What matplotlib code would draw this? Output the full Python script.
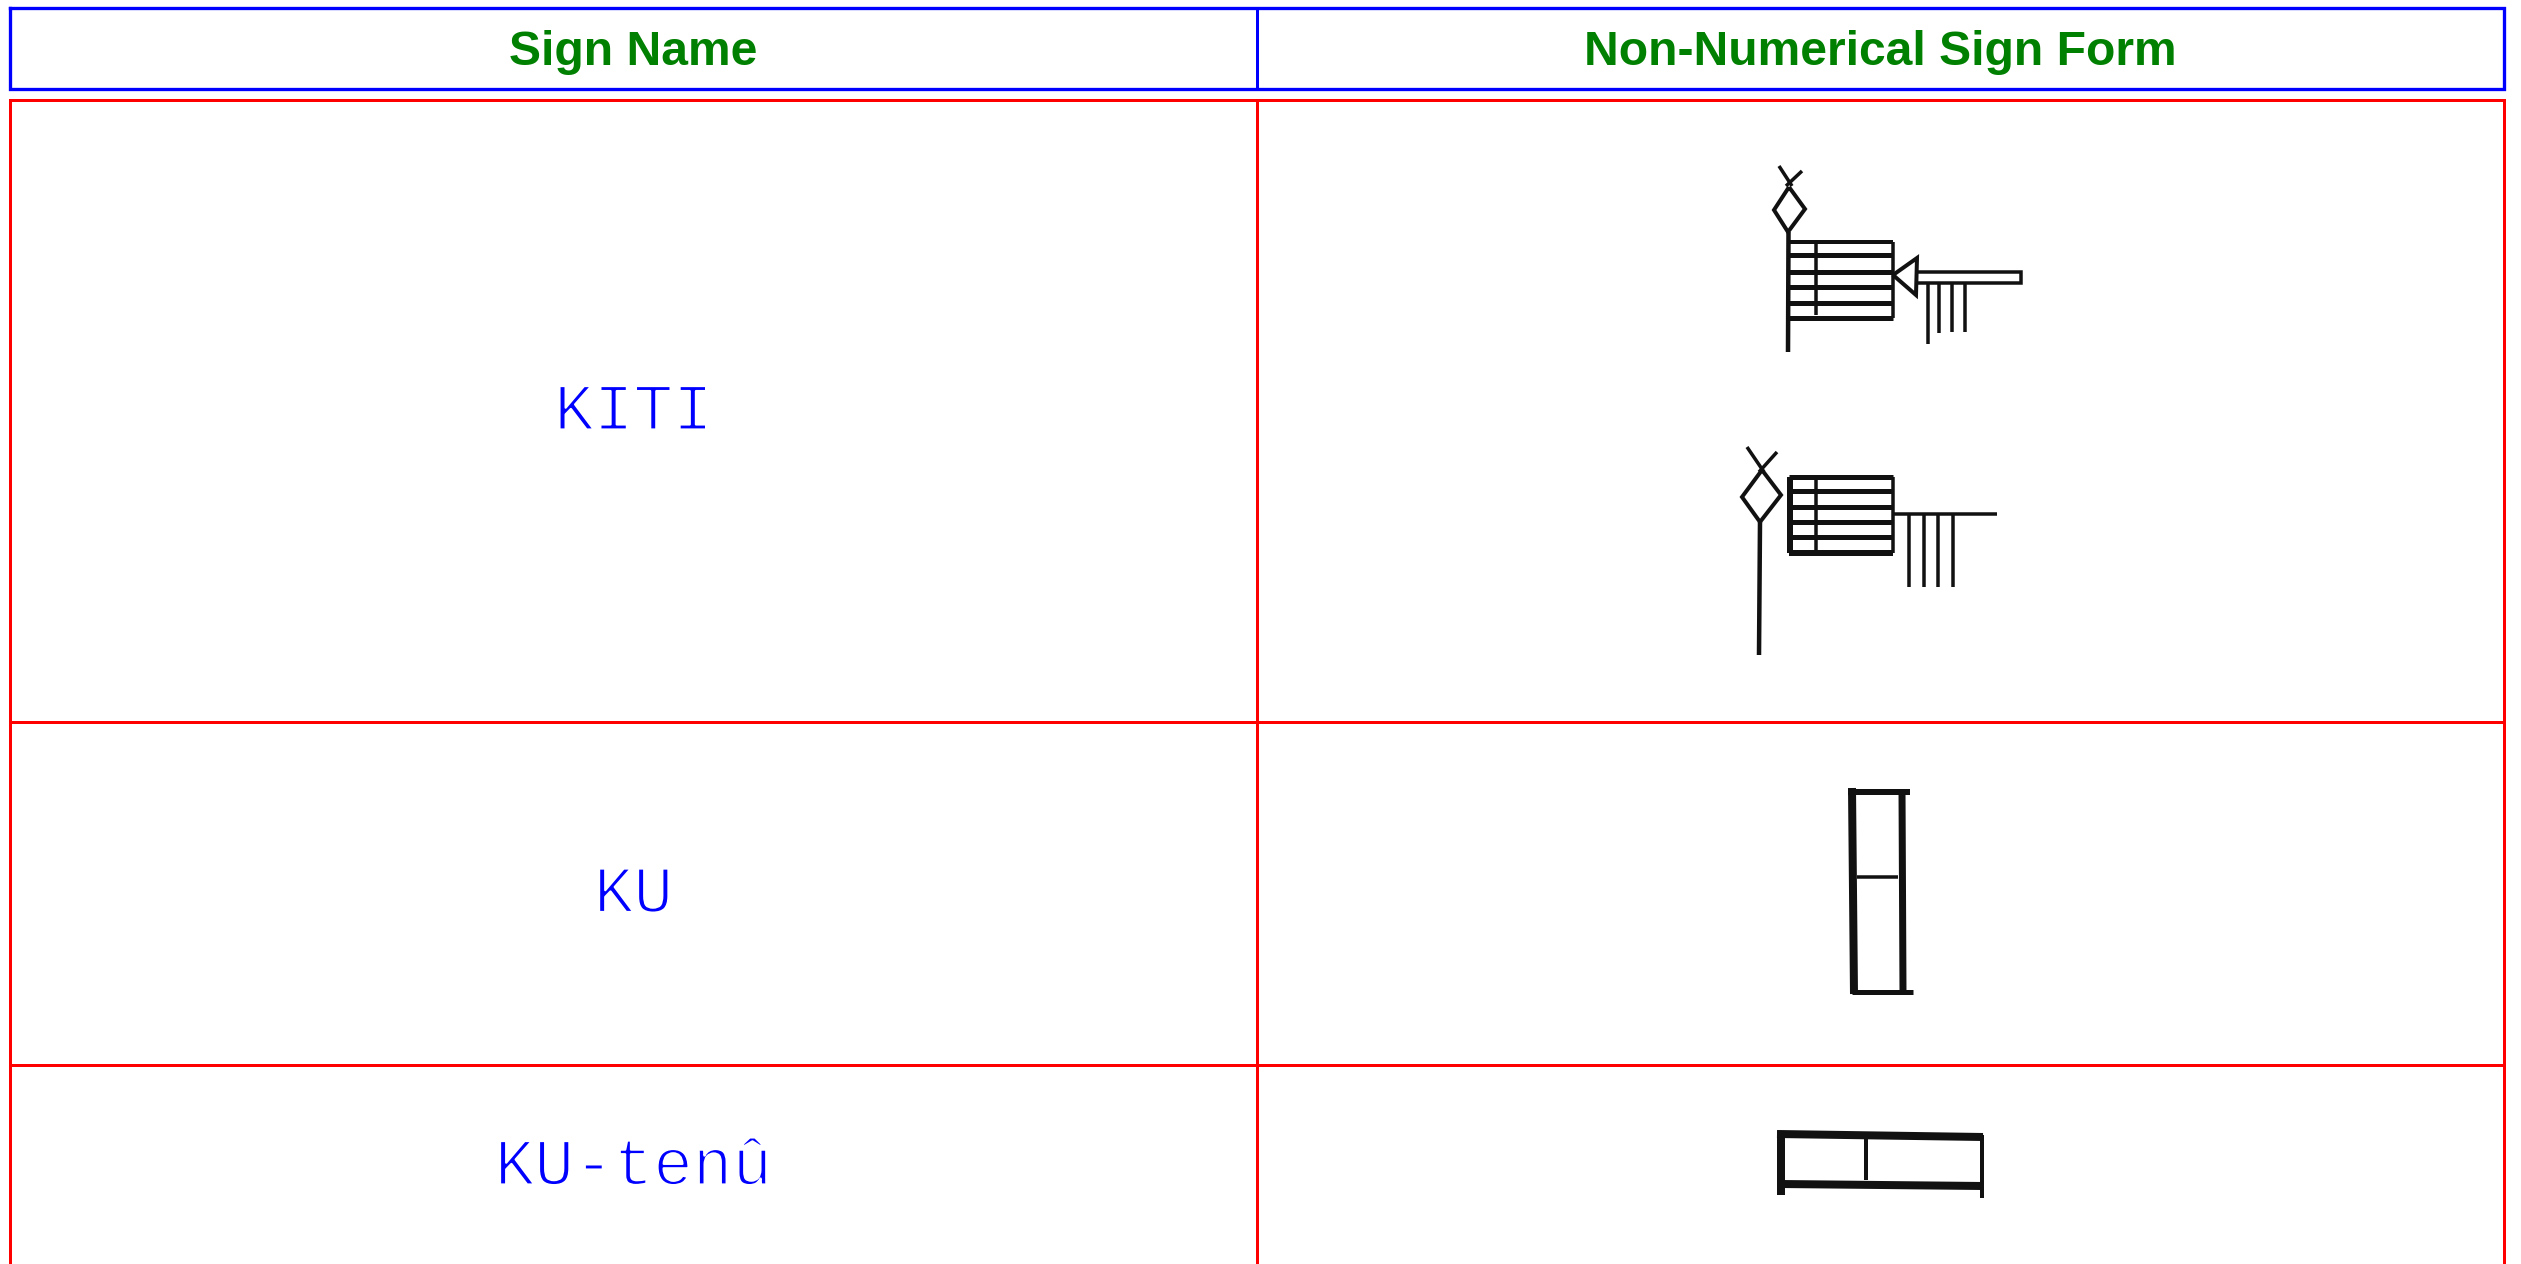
# Table of sign names and their non-numerical sign forms
import matplotlib.pyplot as plt
import matplotlib.patheffects as pe

W, H = 2521, 1264

headers = ['Sign Name', 'Non-Numerical Sign Form']
sign_names = ['KITI', 'KU', 'KU-ten\u00fb']

# table grid, in pixels
x_left, x_mid, x_right = 10, 1257, 2504
head_top, head_bot = 7.5, 89
row_lines = [100, 722, 1065, 1268]

# sign drawings: (polyline points, line width in px)
kiti_a = [
    ([(1779, 166), (1792, 186)], 3.5),
    ([(1802, 171), (1786, 186)], 3.5),
    ([(1789, 187), (1805, 209), (1788, 232), (1774, 210), (1789, 187)], 4),
    ([(1788.5, 232), (1788, 352)], 4.5),
    ([(1789, 242), (1893, 242)], 4),
    ([(1789, 255), (1893, 255)], 5),
    ([(1789, 272), (1893, 272)], 5),
    ([(1789, 287), (1893, 287)], 5),
    ([(1789, 303), (1893, 303)], 5),
    ([(1789, 318), (1893, 318)], 5),
    ([(1816, 242), (1816, 315)], 3.5),
    ([(1893, 242), (1893, 318)], 3.5),
    ([(1893, 275), (1917, 258), (1916, 295), (1893, 275)], 4),
    ([(1916, 272), (2021, 272), (2021, 283), (1916, 283)], 3.5),
    ([(1928, 283), (1928, 344)], 3.5),
    ([(1939, 283), (1939, 333)], 3.5),
    ([(1952, 283), (1952, 332)], 3.5),
    ([(1965, 283), (1965, 332)], 3.5),
]

kiti_b = [
    ([(1747, 447), (1764, 472)], 3.5),
    ([(1777, 452), (1759, 472)], 3.5),
    ([(1762, 470), (1781, 495), (1760, 522), (1742, 497), (1762, 470)], 4),
    ([(1760, 522), (1759, 655)], 4.5),
    ([(1789, 477), (1893, 477)], 5),
    ([(1789, 491), (1893, 491)], 5),
    ([(1789, 507), (1893, 507)], 5),
    ([(1789, 522), (1893, 522)], 5),
    ([(1789, 537), (1893, 537)], 5),
    ([(1789, 553), (1893, 553)], 6),
    ([(1790, 477), (1790, 553)], 6),
    ([(1816, 477), (1816, 553)], 3.5),
    ([(1893, 477), (1893, 553)], 3.5),
    ([(1893, 514), (1997, 514)], 3.5),
    ([(1909, 514), (1909, 587)], 3.5),
    ([(1924, 514), (1924, 587)], 3.5),
    ([(1938, 514), (1938, 587)], 3.5),
    ([(1953, 514), (1953, 587)], 3.5),
]

ku = [
    ([(1852, 788), (1854, 994)], 8),
    ([(1848, 792), (1910, 792)], 6),
    ([(1902, 790), (1903, 993)], 7),
    ([(1857, 877), (1898, 877)], 3.5),
    ([(1852, 992), (1913, 992)], 5),
]

ku_tenu = [
    ([(1777, 1134), (1983, 1137)], 8),
    ([(1780, 1184), (1983, 1186)], 8),
    ([(1781, 1131), (1781, 1195)], 8),
    ([(1982, 1135), (1982, 1198)], 4),
    ([(1866, 1139), (1866, 1180)], 4),
]

signs = [kiti_a, kiti_b, ku, ku_tenu]

PX = 0.72  # points per pixel at dpi 100

fig = plt.figure(figsize=(W / 100, H / 100), dpi=100)
ax = fig.add_axes([0, 0, 1, 1])
ax.set_xlim(0, W)
ax.set_ylim(H, 0)
ax.axis('off')

# header box
blue = '#0000ff'
ax.plot([x_left, x_right, x_right, x_left, x_left],
        [head_top, head_top, head_bot, head_bot, head_top],
        color=blue, lw=3.3 * PX, solid_joinstyle='miter')
ax.plot([x_mid, x_mid], [head_top, head_bot], color=blue, lw=3 * PX)

# body grid
red = '#ff0000'
for y in row_lines:
    ax.plot([x_left, x_right], [y, y], color=red, lw=3 * PX)
for x in [x_left, x_mid, x_right]:
    ax.plot([x, x], [row_lines[0], row_lines[-1]], color=red, lw=3 * PX)

# header texts
head_font = dict(family='Liberation Sans', weight='bold', size=48 * PX, color='#008000')
ax.text((x_left + x_mid) / 2, 65, headers[0], ha='center', va='baseline', **head_font)
ax.text((x_mid + x_right) / 2, 65, headers[1], ha='center', va='baseline', **head_font)

# sign names, caps centred in each row; thin the strokes a bit with a white outline
name_font = dict(family='Liberation Mono', size=66 * PX, color=blue)
thin = [pe.Normal(), pe.Stroke(linewidth=1.6, foreground='white')]
cap = 37
for i, name in enumerate(sign_names):
    yc = (row_lines[i] + row_lines[i + 1]) / 2
    if i == len(sign_names) - 1:
        yc = 1166
    t = ax.text((x_left + x_mid) / 2, yc + cap / 2, name, ha='center', va='baseline', **name_font)
    t.set_path_effects(thin)

# sign forms
for sign in signs:
    for pts, lw in sign:
        xs = [p[0] for p in pts]
        ys = [p[1] for p in pts]
        ax.plot(xs, ys, color='#111111', lw=lw * PX, solid_capstyle='butt', solid_joinstyle='miter')

fig.savefig('out.png', dpi=100)
